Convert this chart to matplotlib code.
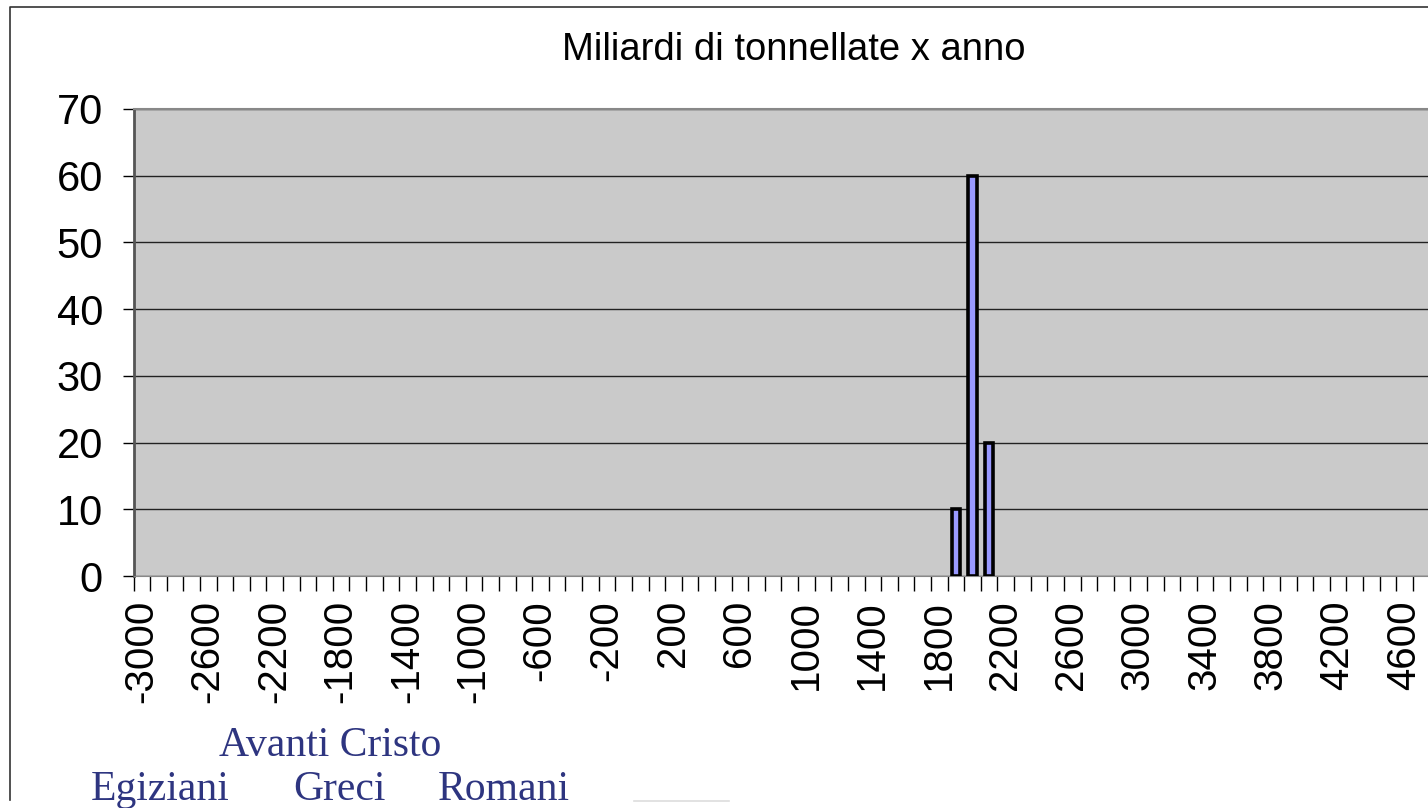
import matplotlib.pyplot as plt
from matplotlib.lines import Line2D

# categorie (anni, passo 100) e valori
years = list(range(-3000, 4900, 100))
bar_years = [1900, 2000, 2100]
bar_values = [10, 60, 20]
label_years = list(range(-3000, 4700, 400))
y_ticks = [0, 10, 20, 30, 40, 50, 60, 70]

plt.rcParams['font.family'] = ['Liberation Sans', 'DejaVu Sans']

fig = plt.figure(figsize=(14.28, 8.08), dpi=100)
W, H = 1428, 808

# cornice esterna (solo lato sinistro e superiore visibili)
fig.add_artist(Line2D([10 / W, 10 / W, 1.0], [1 - 800 / H, 1 - 7 / H, 1 - 7 / H],
                      transform=fig.transFigure, color='#333333', linewidth=1.2))
fig.add_artist(Line2D([634 / W, 729 / W], [1 - 801 / H, 1 - 801 / H],
                      transform=fig.transFigure, color='#DDDDDD', linewidth=1.2))

cat_w = 16.615
ax = fig.add_axes([133.5 / W, 1 - 576 / H, len(years) * cat_w / W, (576 - 109) / H])
ax.set_facecolor('#CACACA')

pos = [years.index(y) for y in bar_years]
ax.bar(pos, bar_values, width=0.5, color='#9999FF', edgecolor='black',
       linewidth=2.6, zorder=3)

ax.set_xlim(-0.5, len(years) - 0.5)
ax.set_ylim(0, 70)
ax.set_yticks(y_ticks)
ax.yaxis.grid(True, color='#222222', linewidth=1.0, zorder=1)
ax.tick_params(axis='y', labelsize=30, length=8, width=1, direction='out', pad=14)

# tacche tra le categorie, etichette ogni 400 anni
ax.set_xticks([i - 0.5 for i in range(len(years) + 1)])
ax.set_xticklabels([])
ax.tick_params(axis='x', length=11, width=1, direction='out')
for y in label_years:
    ax.text(years.index(y) - 0.05, -3.6, str(y), rotation=90, fontsize=29,
            ha='center', va='top')

for side in ['top', 'right']:
    ax.spines[side].set_color('#888888')
    ax.spines[side].set_linewidth(1.5)
ax.spines['left'].set_color('#555555')
ax.spines['left'].set_linewidth(2)
ax.spines['bottom'].set_color('#888888')

fig.text(794 / W, 1 - 50 / H, "Miliardi di tonnellate x anno", fontsize=27.5,
         ha='center', va='center')

navy = '#2E3580'
serif = ['Liberation Serif', 'DejaVu Serif']
fig.text(330 / W, 1 - 746 / H, "Avanti Cristo", fontsize=30, color=navy,
         family=serif, ha='center', va='center')
fig.text(160 / W, 1 - 790 / H, "Egiziani", fontsize=30, color=navy,
         family=serif, ha='center', va='center')
fig.text(339 / W, 1 - 790 / H, "Greci", fontsize=30, color=navy,
         family=serif, ha='center', va='center')
fig.text(504 / W, 1 - 790 / H, "Romani", fontsize=30, color=navy,
         family=serif, ha='center', va='center')

fig.savefig("out.png", dpi=100)
